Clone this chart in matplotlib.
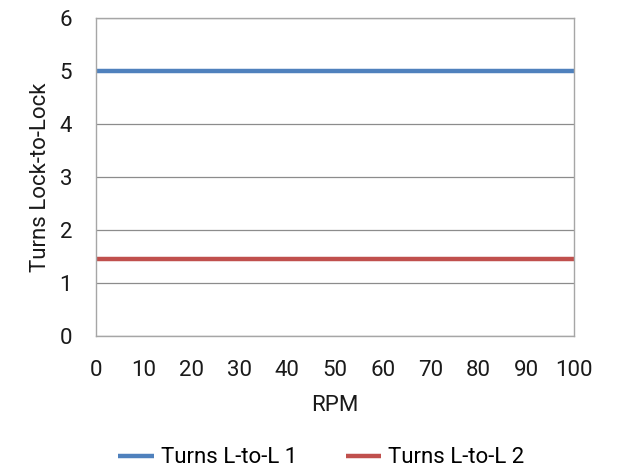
import matplotlib
matplotlib.use('Agg')
import matplotlib.pyplot as plt

plt.rcParams['font.family'] = ['Roboto', 'DejaVu Sans']

rpm = [0, 10, 20, 30, 40, 50, 60, 70, 80, 90, 100]
turns1 = [5, 5, 5, 5, 5, 5, 5, 5, 5, 5, 5]
turns2 = [1.45, 1.45, 1.45, 1.45, 1.45, 1.45, 1.45, 1.45, 1.45, 1.45, 1.45]

fig = plt.figure(figsize=(6.18, 4.72), dpi=100)
ax = fig.add_axes([0.155, 0.288, 0.774, 0.674])
ax.plot(rpm, turns1, color='#4F81BD', lw=3.2, label='Turns L-to-L 1', solid_capstyle='butt')
ax.plot(rpm, turns2, color='#C0504D', lw=3.2, label='Turns L-to-L 2', solid_capstyle='butt')
ax.set_xlim(0, 100)
ax.set_ylim(0, 6)
ax.set_xticks(range(0, 101, 10))
ax.set_yticks(range(0, 7))
ax.grid(axis='y', color='#8C8C8C', lw=0.9)
ax.set_axisbelow(True)
for s in ax.spines.values():
    s.set_color('#A6A6A6')
    s.set_linewidth(1.0)
ax.tick_params(length=0, labelsize=16, colors='#1A1A1A')
ax.tick_params(axis='x', pad=17)
ax.tick_params(axis='y', pad=17)
ax.set_xlabel('RPM', fontsize=16, color='#1A1A1A', labelpad=10)
ax.set_ylabel('Turns Lock-to-Lock', fontsize=16, color='#1A1A1A', labelpad=6)
fig.legend(loc='center', bbox_to_anchor=(0.52, 0.03), ncol=2, frameon=False,
           fontsize=16, handlelength=1.6, columnspacing=2.2, handletextpad=0.3)
fig.savefig('out.png', dpi=100)
